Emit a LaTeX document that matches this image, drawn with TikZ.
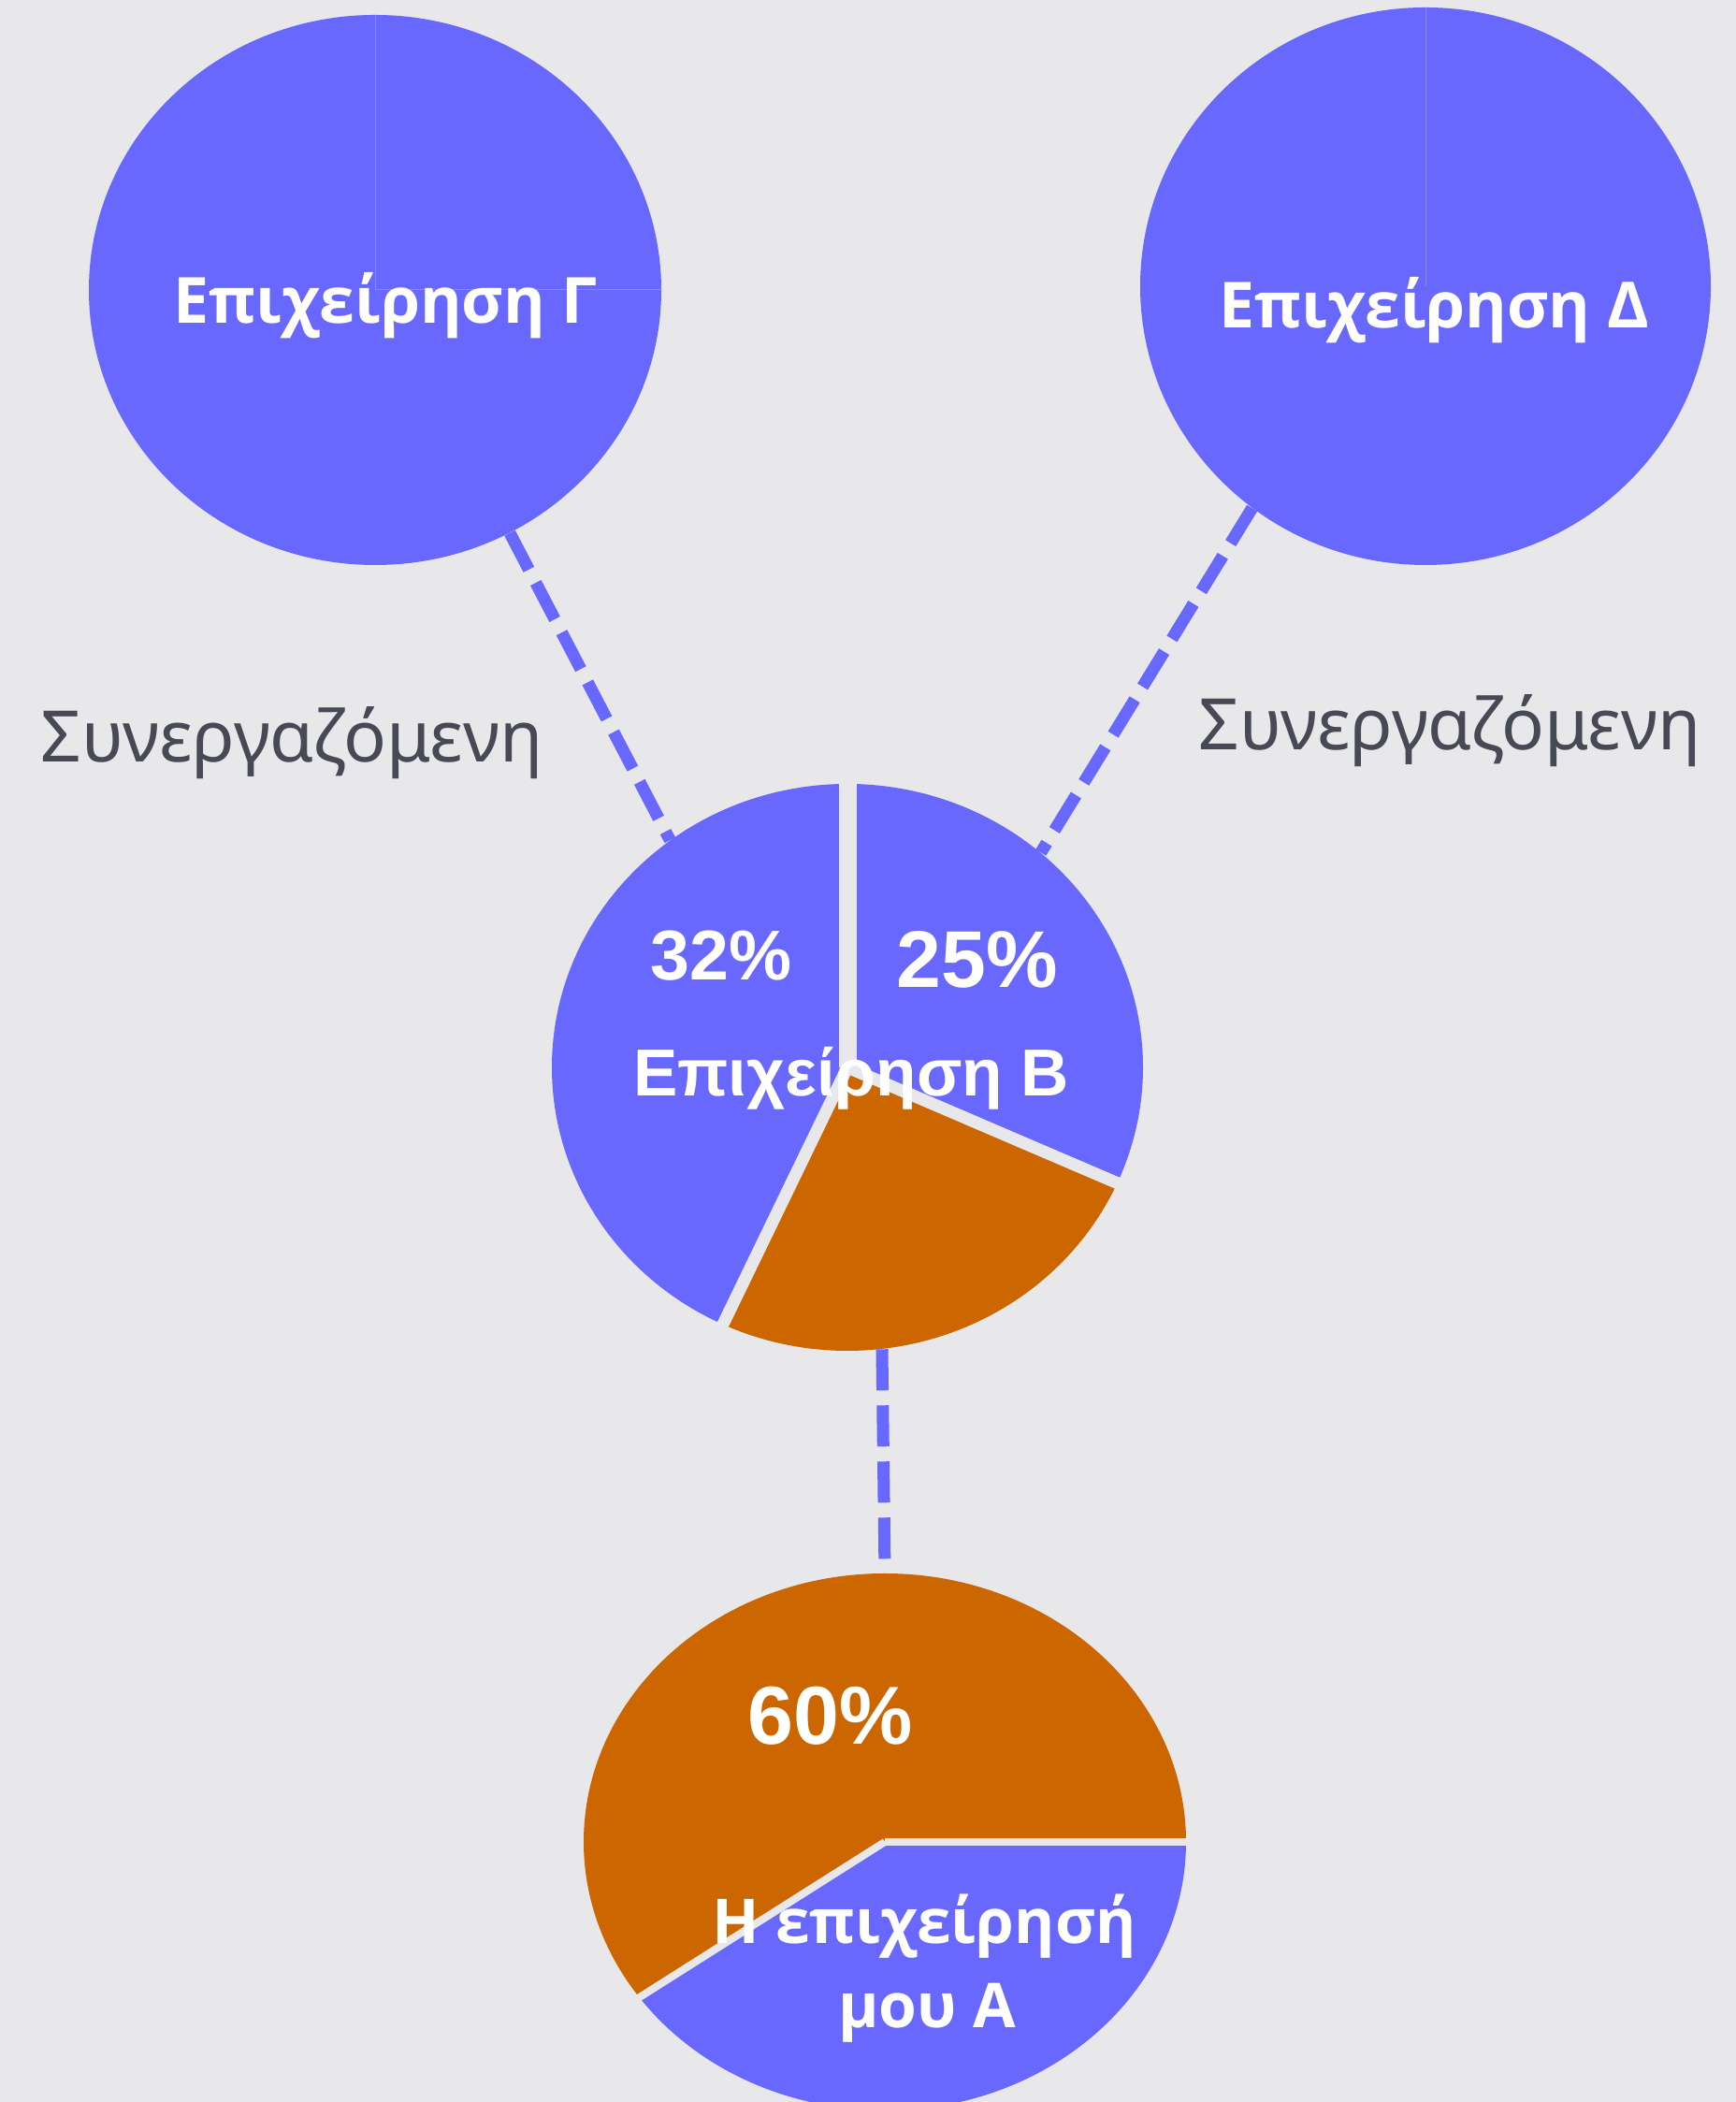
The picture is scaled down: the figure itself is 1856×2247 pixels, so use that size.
\documentclass[tikz,border=0pt]{standalone}
\usepackage{fontspec}
\setmainfont{Noto Sans}
\IfFontExistsTF{Open Sans Bold}
  {\newfontfamily\firmfont{Open Sans Bold}}
  {\newfontfamily\firmfont{Noto Sans}[FakeBold=4]}
\newfontfamily\arialfont{Liberation Sans}
\usetikzlibrary{shapes.geometric}
\definecolor{bgcol}{HTML}{E8E8EB}
\definecolor{firmblue}{HTML}{6868FF}
\definecolor{firmorange}{HTML}{CC6600}
\definecolor{notegray}{HTML}{474A54}
\tikzset{
  firm/.style={ellipse, fill=firmblue, inner sep=0pt},
  pie/.style={ellipse, inner sep=0pt},
  link/.style={draw=firmblue, line width=6.5pt, dash pattern=on 22pt off 8pt},
  cut/.style={draw=bgcol, line width=#1},
  seam/.style={draw=firmblue!80!white, line width=0.5pt},
  firmname/.style={text=white, font=\firmfont\fontsize{#1}{#1}\selectfont, anchor=base, inner sep=0pt},
  firmname/.default=34,
  share/.style={text=white, font=\arialfont\bfseries\fontsize{#1}{#1}\selectfont, anchor=base, inner sep=0pt},
  partner/.style={text=notegray, font=\fontsize{38}{46}\selectfont, anchor=base, inner sep=0pt}
}
\begin{document}
\begin{tikzpicture}[x=0.5pt, y=0.5pt]
\useasboundingbox (0,0) rectangle (1856,2247);
\fill[bgcol] (0,0) rectangle (1856,2247);
\clip (0,0) rectangle (1856,2247);
\node[firm, minimum width=306pt, minimum height=294pt] (G) at (401,1937) {};
\node[firm, minimum width=305pt, minimum height=298pt] (D) at (1524,1941) {};
\node[pie, minimum width=316pt, minimum height=303pt] (B) at (906,1106) {};
\node[pie, minimum width=322pt, minimum height=287pt] (A) at (946,278) {};
\draw[seam] (G.north) -- (G.center) -- (G.east);
\draw[seam] (D.north) -- (D.center);
\fill[firmblue] (B.center) -- ++(90:158pt and 151.5pt) arc[start angle=90, end angle=245, x radius=158pt, y radius=151.5pt] -- cycle;
\fill[firmorange] (B.center) -- ++(245:158pt and 151.5pt) arc[start angle=245, end angle=336, x radius=158pt, y radius=151.5pt] -- cycle;
\fill[firmblue] (B.center) -- ++(-24:158pt and 151.5pt) arc[start angle=-24, end angle=90, x radius=158pt, y radius=151.5pt] -- cycle;
\draw[cut=9.5pt] (B.center) -- ++(90:162pt and 156pt);
\draw[cut=6.5pt] (B.center) -- ++(245:162pt and 156pt);
\draw[cut=6.5pt] (B.center) -- ++(-24:162pt and 156pt);
\fill[firmorange] (A.center) -- ++(0:161pt and 143.5pt) arc[start angle=0, end angle=215.4, x radius=161pt, y radius=143.5pt] -- cycle;
\fill[firmblue] (A.center) -- ++(215.4:161pt and 143.5pt) arc[start angle=215.4, end angle=360, x radius=161pt, y radius=143.5pt] -- cycle;
\draw[cut=4pt] (A.center) -- ++(0:165pt and 147pt);
\draw[cut=4pt] (A.center) -- ++(215.4:165pt and 147pt);
\draw[link] (G.-61) -- (B.128);
\draw[link] (D.232) -- (B.48);
\draw[link] (B.-83) -- (A.north);
\node[firmname] (Gname) at (412,1901) {Επιχείρηση Γ};
\node[firmname] (Dname) at (1533,1896) {Επιχείρηση Δ};
\node[share=35.5] (Bname) at (910,1075) {Επιχείρηση Β};
\node[share=37.7] (Bleft) at (771,1199) {32\%};
\node[share=43] (Bright) at (1045,1191) {25\%};
\node[share=44] (Aown) at (888,382) {60\%};
\node[firmname=33] (Aname) at (988,169) {Η επιχείρησή};
\node[firmname=33] (Aname2) at (991,79) {μου Α};
\node[partner] (Gnote) at (312,1432) {Συνεργαζόμενη};
\node[partner] (Dnote) at (1550,1445) {Συνεργαζόμενη};
\end{tikzpicture}
\end{document}
